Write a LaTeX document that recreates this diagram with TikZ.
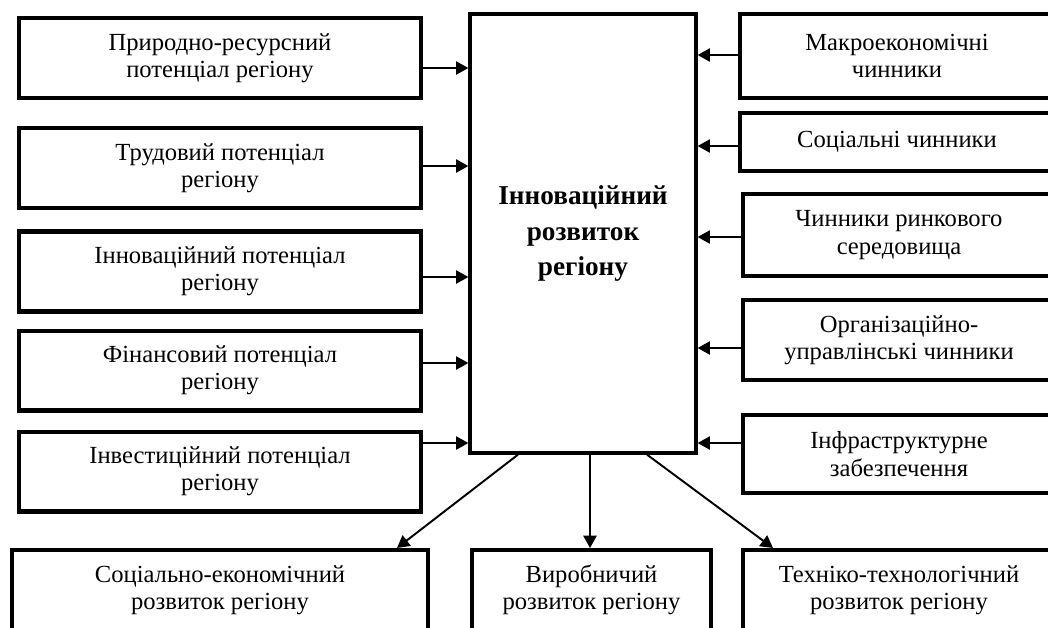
\documentclass[tikz,border=0pt]{standalone}
\usepackage{fontspec}
\setmainfont{Liberation Serif}
\usetikzlibrary{arrows.meta}

\tikzset{
  box/.style={draw, line width=2.3pt, inner sep=0pt, align=center,
    minimum height=1.6cm, font=\fontsize{14}{15.5}\selectfont},
  arr/.style={-{Triangle[length=7pt,width=7.5pt]}, line width=1.1pt}
}

\begin{document}
\begin{tikzpicture}[x=0.02cm, y=-0.02cm]
    \clip (0,0) rectangle (1048,627);

    \node[draw, line width=1.9pt, minimum width=4.52cm, minimum height=8.78cm,
      align=center, font=\fontsize{15.5}{20}\selectfont\bfseries]
      (main) at (583,233.5) {Інноваційний\\розвиток\\регіону};

    \node[box, minimum width=8.04cm] (l1) at (220,58) {Природно-ресурсний\\потенціал регіону};
    \node[box, minimum width=8.04cm] (l2) at (220,168) {Трудовий потенціал\\регіону};
    \node[box, minimum width=8.04cm] (l3) at (220,271.5) {Інноваційний потенціал\\регіону};
    \node[box, minimum width=8.04cm] (l4) at (220,370.5) {Фінансовий потенціал\\регіону};
    \node[box, minimum width=8.04cm] (l5) at (220,471.5) {Інвестиційний потенціал\\регіону};

    \node[box, minimum width=6.28cm, minimum height=1.68cm] (r1) at (897,56) {Макроекономічні\\чинники};
    \node[box, minimum width=6.28cm, minimum height=1.16cm] (r2) at (897,142) {Соціальні чинники};
    \node[box, minimum width=6.24cm, minimum height=1.64cm] (r3) at (899,235) {Чинники ринкового\\середовища};
    \node[box, minimum width=6.24cm] (r4) at (899,340) {Організаційно-\\управлінські чинники};
    \node[box, minimum width=6.24cm, minimum height=1.56cm] (r5) at (899,454) {Інфраструктурне\\забезпечення};

    \node[box, minimum width=8.32cm] (b1) at (220,590) {Соціально-економічний\\розвиток регіону};
    \node[box, minimum width=4.78cm] (b2) at (591.5,590) {Виробничий\\розвиток регіону};
    \node[box, minimum width=6.24cm] (b3) at (899,590) {Техніко-технологічний\\розвиток регіону};

    \foreach \n/\y in {l1/68, l2/166, l3/277, l4/363, l5/443}
      \draw[arr] (\n.east |- 0,\y) -- (main.west |- 0,\y);
    \foreach \n/\y in {r1/55, r2/146, r3/237, r4/348, r5/443}
      \draw[arr] (\n.west |- 0,\y) -- (main.east |- 0,\y);

    \draw[arr] (main.south -| 518,0) -- (b1.north -| 397,0);
    \draw[arr] (main.south -| 590,0) -- (b2.north -| 590,0);
    \draw[arr] (main.south -| 647,0) -- (b3.north -| 773,0);
  \end{tikzpicture}
\end{document}
